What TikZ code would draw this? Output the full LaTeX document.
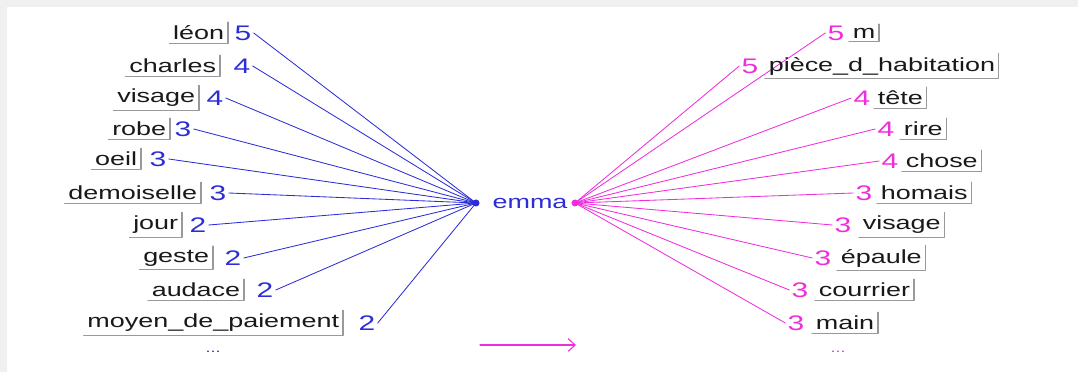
\documentclass[tikz,border=0pt]{standalone}
\usepackage{fontspec}
\setmainfont{Liberation Sans}[FakeStretch=1.42]
\usetikzlibrary{arrows.meta}
\definecolor{leftblue}{RGB}{45,45,215}
\definecolor{rightpink}{RGB}{240,45,220}
\tikzset{
	word/.style={font=\fontsize{13.5}{15}\selectfont, inner sep=2.5pt, text=black!90},
	score/.style={font=\fontsize{15}{16}\selectfont, inner sep=1.5pt},
	button edge/.style={draw=black!40, line width=0.8pt},
}
\begin{document}
\begin{tikzpicture}[x=0.025cm, y=-0.025cm, line join=round, line cap=round]
	\useasboundingbox (0,0) rectangle (1078,372);
	\fill[black!6] (0,0) rectangle (1078,7) (0,0) rectangle (7,372);
	% centre word
	\fill[leftblue] (476,203) coordinate(hubL) circle (3.5);
	\fill[rightpink] (575,203) coordinate(hubR) circle (3.5);
	\node[word, text=leftblue, inner sep=0pt] (emma) at (530,203) {emma};
	% left side
	\foreach \i/\w/\bx/\y/\s/\sx in {1/léon/228/33/5/243, 2/charles/220/66/4/242, 3/visage/199/98/4/215, 4/robe/170/129/3/183, 5/oeil/141/159/3/158, 6/demoiselle/201/193/3/218, 7/jour/182/225/2/198, 8/geste/213/258/2/233, 9/audace/244/290/2/265, 10/moyen\_de\_paiement/343/323/2/367}{
		\node[word, anchor=east] (L\i) at (\bx,\y) {\w};
		\draw[button edge] (L\i.south west) -| (L\i.north east);
		\node[score, text=leftblue] (sL\i) at (\sx,\y) {\s};
		\draw[leftblue, line width=0.6pt] (sL\i.east) -- (hubL);
	}
	\node[text=leftblue, font=\small] (moreL) at (213,352) {...};
	% right side
	\foreach \i/\w/\tx/\y/\s/\sx in {1/m/852/33/5/836, 2/pièce\_d\_habitation/768/66/5/750, 3/tête/877/98/4/862, 4/rire/903/129/4/886, 5/chose/905/161/4/890, 6/homais/880/193/3/864, 7/visage/862/225/3/843, 8/épaule/840/258/3/823, 9/courrier/818/290/3/800, 10/main/815/323/3/796}{
		\node[word, anchor=west] (R\i) at (\tx-3,\y) {\w};
		\draw[button edge] (R\i.south west) -| (R\i.north east);
		\node[score, text=rightpink] (sR\i) at (\sx,\y) {\s};
		\draw[rightpink, line width=0.6pt] (hubR) -- (sR\i.west);
	}
	\node[text=rightpink, font=\small] (moreR) at (838,352) {...};
	% direction arrow
	\coordinate (arrA) at (480,345);
	\coordinate (arrB) at (576,345);
	\draw[rightpink, line width=0.8pt, -{Straight Barb[length=5pt,width=9pt]}] (arrA) -- (arrB);
\end{tikzpicture}
\end{document}
